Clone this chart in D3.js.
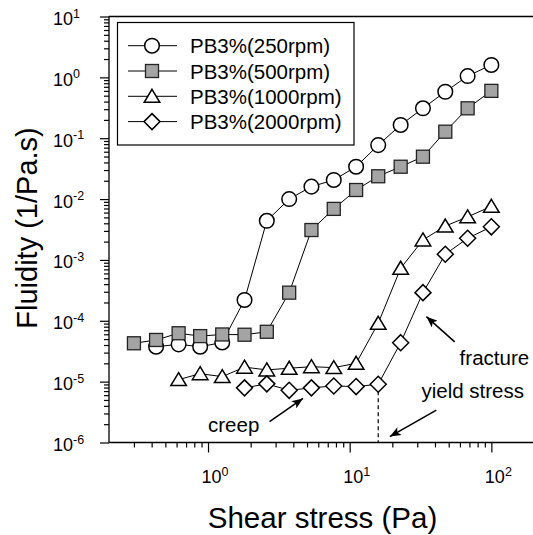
<!DOCTYPE html>
<html>
<head>
<meta charset="utf-8">
<script src="https://cdn.jsdelivr.net/npm/d3@7"></script>
<style>
  body { margin: 0; background: #fff; }
  svg { display: block; }
  text { font-family: "Liberation Sans", Arial, sans-serif; fill: #000; }
</style>
</head>
<body>
<svg id="chart" width="533" height="535"></svg>
<script>
// Shear stress steps (Pa) shared by all series
const shearStress = [0.30, 0.43, 0.62, 0.88, 1.26, 1.81, 2.60, 3.74, 5.37, 7.72, 11.1, 15.9, 22.9, 32.9, 47.3, 68.0, 100];

// Fluidity (1/Pa.s) per rotor speed; null = not measured at that step
const fluidity250  = [null, 3.75e-5, 4.1e-5, 3.75e-5, 4.4e-5, 2.2e-4, 4.4e-3, 1.0e-2, 1.6e-2, 2.06e-2, 3.4e-2, 7.7e-2, 0.165, 0.31, 0.58, 1.05, 1.6];
const fluidity500  = [4.27e-5, 4.84e-5, 6.24e-5, 5.6e-5, 5.96e-5, 5.9e-5, 6.6e-5, 2.9e-4, 3.1e-3, 6.9e-3, 1.41e-2, 2.37e-2, 3.4e-2, 4.97e-2, 0.128, 0.31, 0.60];
const fluidity1000 = [null, null, 1.08e-5, 1.35e-5, 1.21e-5, 1.73e-5, 1.56e-5, 1.66e-5, 1.76e-5, 1.7e-5, 2.0e-5, 9.1e-5, 7.3e-4, 2.13e-3, 3.6e-3, 5.1e-3, 7.6e-3];
const fluidity2000 = [null, null, null, null, null, 7.9e-6, 9.2e-6, 7.2e-6, 7.9e-6, 8.5e-6, 8.3e-6, 9.05e-6, 4.37e-5, 2.9e-4, 1.24e-3, 2.27e-3, 3.5e-3];

const seriesNames = ["PB3%(250rpm)", "PB3%(500rpm)", "PB3%(1000rpm)", "PB3%(2000rpm)"];
const seriesShapes = ["circle", "square", "triangle", "diamond"];

const xTickValues = [1, 10, 100];
const xTickExponents = ["0", "1", "2"];
const yTickValues = [1e-6, 1e-5, 1e-4, 1e-3, 1e-2, 1e-1, 1, 10];
const yTickExponents = ["-6", "-5", "-4", "-3", "-2", "-1", "0", "1"];

const yieldStress = 15.9;
const yieldFluidity = 9.05e-6;

// Annotations, placed in data units: [text, textX, textY, arrowFromX, arrowFromY, arrowToX, arrowToY]
const annotations = [
  ["creep",        1.0,  1.5e-6, 2.72, 2.2e-6, 4.68, 5.3e-6],
  ["fracture",     59.7, 1.88e-5, 55.1, 4.5e-5, 34.8, 1.17e-4],
  ["yield stress", 32.1, 5.4e-6, 40.9, 3.4e-6, 19.2, 1.25e-6]
];

const svg = d3.select("#chart");

const x = d3.scaleLog().domain([0.2, 200]).range([109, 534]);
const y = d3.scaleLog().domain([1e-6, 10]).range([442.5, 16.5]);

// arrowhead
svg.append("defs").append("marker")
  .attr("id", "arrowhead")
  .attr("viewBox", "0 0 10 8")
  .attr("refX", 10).attr("refY", 4)
  .attr("markerWidth", 13).attr("markerHeight", 9)
  .attr("markerUnits", "userSpaceOnUse")
  .attr("orient", "auto")
  .append("path").attr("d", "M0,0 L10,4 L0,8 L2.5,4 Z").attr("fill", "#000");

// minor ticks at 2..9 of each decade
function minorTicks(domain) {
  const out = [];
  const lo = Math.floor(Math.log10(domain[0])), hi = Math.ceil(Math.log10(domain[1]));
  for (let e = lo; e < hi; e++) {
    for (let m = 2; m <= 9; m++) {
      const v = m * Math.pow(10, e);
      if (v >= domain[0] && v <= domain[1]) out.push(v);
    }
  }
  return out;
}

const gx = svg.append("g").attr("transform", "translate(0,442.5)");
gx.call(d3.axisBottom(x).tickValues(xTickValues).tickSize(10).tickFormat(""));
gx.append("g").call(d3.axisBottom(x).tickValues(minorTicks(x.domain()).filter(v => v > 0.21 && v < 199)).tickSize(5).tickFormat(""));
gx.selectAll(".domain").remove();
gx.selectAll("line").attr("stroke", "#000").attr("stroke-width", 1.2);

const gy = svg.append("g").attr("transform", "translate(109,0)");
gy.call(d3.axisLeft(y).tickValues(yTickValues).tickSize(9).tickFormat(""));
gy.append("g").call(d3.axisLeft(y).tickValues(minorTicks(y.domain())).tickSize(5).tickFormat(""));
gy.selectAll(".domain").remove();
gy.selectAll("line").attr("stroke", "#000").attr("stroke-width", 1.2);

// frame lines: left, bottom, top
svg.append("line").attr("x1", 109).attr("x2", 109).attr("y1", 16.5).attr("y2", 442.5).attr("stroke", "#000").attr("stroke-width", 1.3);
svg.append("line").attr("x1", 109).attr("x2", 533).attr("y1", 442.5).attr("y2", 442.5).attr("stroke", "#000").attr("stroke-width", 1.3);
svg.append("line").attr("x1", 109).attr("x2", 533).attr("y1", 16.5).attr("y2", 16.5).attr("stroke", "#000").attr("stroke-width", 1.3);

// tick labels as 10 with superscript exponent
xTickValues.forEach((v, i) => {
  const t = svg.append("text").attr("x", x(v) + 7).attr("y", 483).attr("text-anchor", "middle").attr("font-size", 18);
  t.append("tspan").text("10");
  t.append("tspan").attr("dy", -7.5).attr("font-size", 12.5).text(xTickExponents[i]);
});
yTickValues.forEach((v, i) => {
  const t = svg.append("text").attr("x", 53).attr("y", y(v) + 8.5).attr("font-size", 18);
  t.append("tspan").text("10");
  t.append("tspan").attr("dy", -7.5).attr("font-size", 12.5).text(yTickExponents[i]);
});

// axis titles
svg.append("text").attr("x", 322.5).attr("y", 528).attr("text-anchor", "middle").attr("font-size", 29.5).text("Shear stress (Pa)");
svg.append("text").attr("transform", "translate(37,228) rotate(-90)").attr("text-anchor", "middle").attr("font-size", 29).text("Fluidity (1/Pa.s)");

// markers
function drawMarker(g, shape, cx, cy) {
  if (shape === "circle") {
    g.append("circle").attr("cx", cx).attr("cy", cy).attr("r", 7.3)
      .attr("fill", "#fff").attr("stroke", "#000").attr("stroke-width", 1.5);
  } else if (shape === "square") {
    g.append("rect").attr("x", cx - 6.5).attr("y", cy - 6.5).attr("width", 13).attr("height", 13)
      .attr("fill", "#a4a4a4").attr("stroke", "#222").attr("stroke-width", 1.3);
  } else if (shape === "triangle") {
    g.append("path").attr("d", `M${cx},${cy - 7} L${cx + 7.8},${cy + 6} L${cx - 7.8},${cy + 6} Z`)
      .attr("fill", "#fff").attr("stroke", "#000").attr("stroke-width", 1.5).attr("stroke-linejoin", "miter");
  } else {
    g.append("path").attr("d", `M${cx},${cy - 8} L${cx + 8},${cy} L${cx},${cy + 8} L${cx - 8},${cy} Z`)
      .attr("fill", "#fff").attr("stroke", "#000").attr("stroke-width", 1.5);
  }
}

const seriesValues = [fluidity250, fluidity500, fluidity1000, fluidity2000];
const seriesData = seriesValues.map(vals =>
  vals.map((v, i) => ({ s: shearStress[i], f: v })).filter(d => d.f !== null));

const line = d3.line().x(d => x(d.s)).y(d => y(d.f));

// yield stress marker line
svg.append("line")
  .attr("x1", x(yieldStress)).attr("x2", x(yieldStress))
  .attr("y1", y(yieldFluidity)).attr("y2", y(1e-6))
  .attr("stroke", "#000").attr("stroke-width", 1.2).attr("stroke-dasharray", "4,3");

seriesData.forEach(data => {
  svg.append("path").datum(data).attr("d", line)
    .attr("fill", "none").attr("stroke", "#000").attr("stroke-width", 1);
});
seriesData.forEach((data, k) => {
  const g = svg.append("g");
  data.forEach(d => drawMarker(g, seriesShapes[k], x(d.s), y(d.f)));
});

// annotations
annotations.forEach(a => {
  svg.append("text").attr("x", x(a[1])).attr("y", y(a[2])).attr("font-size", 20.5).text(a[0]);
  svg.append("line")
    .attr("x1", x(a[3])).attr("y1", y(a[4]))
    .attr("x2", x(a[5])).attr("y2", y(a[6]))
    .attr("stroke", "#000").attr("stroke-width", 1.6)
    .attr("marker-end", "url(#arrowhead)");
});

// legend
const legend = svg.append("g");
legend.append("rect").attr("x", 117.5).attr("y", 22.5).attr("width", 236.5).attr("height", 122.5)
  .attr("fill", "#fff").attr("stroke", "#000").attr("stroke-width", 1.2);
seriesNames.forEach((name, k) => {
  const ry = 45.7 + k * 25.3;
  legend.append("line").attr("x1", 128).attr("x2", 177).attr("y1", ry).attr("y2", ry)
    .attr("stroke", "#000").attr("stroke-width", 1);
  drawMarker(legend, seriesShapes[k], 152, ry);
  legend.append("text").attr("x", 190).attr("y", ry + 7.5).attr("font-size", 20.5).text(name);
});
</script>
</body>
</html>
